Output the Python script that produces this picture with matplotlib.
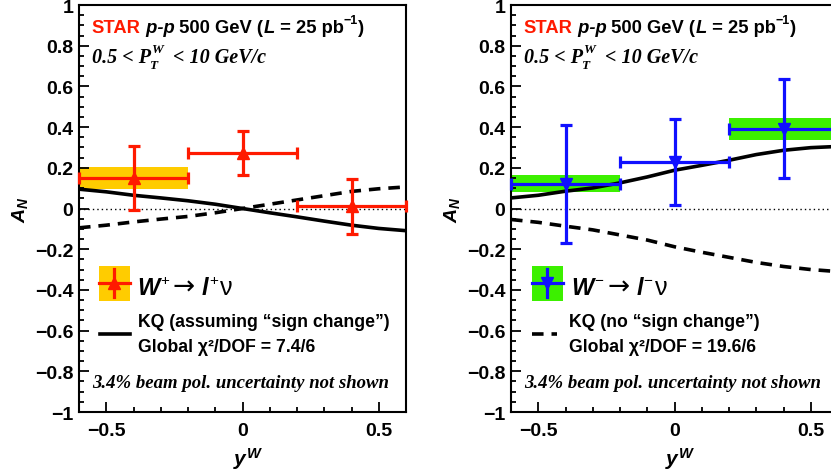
import matplotlib
matplotlib.use('Agg')
import matplotlib.pyplot as plt
from matplotlib.patches import Rectangle
from matplotlib.ticker import MultipleLocator, FuncFormatter

plt.rcParams['font.family'] = ['Liberation Sans', 'DejaVu Sans']
plt.rcParams['mathtext.fontset'] = 'custom'
plt.rcParams['mathtext.rm'] = 'Liberation Sans:bold'
plt.rcParams['mathtext.it'] = 'Liberation Sans:italic:bold'
plt.rcParams['mathtext.bf'] = 'Liberation Sans:bold'

# ---------------- data ----------------
yw_bins = [-0.4, 0.0, 0.4]
yw_halfwidth = [0.2, 0.2, 0.2]

wplus_an = [0.150, 0.273, 0.010]
wplus_stat = [0.155, 0.110, 0.133]
wplus_sys = [0.053, 0.0, 0.0]

wminus_an = [0.122, 0.229, 0.392]
wminus_stat = [0.290, 0.212, 0.244]
wminus_sys = [0.043, 0.0, 0.053]

curve_yw = [-0.6, -0.5, -0.4, -0.3, -0.2, -0.1, 0.0, 0.1, 0.2, 0.3, 0.4, 0.5, 0.6]
kq_sign_wplus = [0.095, 0.082, 0.065, 0.052, 0.038, 0.021, 0.0, -0.021, -0.041, -0.062, -0.082, -0.098, -0.109]
kq_nosign_wplus = [-0.095, -0.082, -0.066, -0.052, -0.039, -0.021, 0.0, 0.021, 0.042, 0.063, 0.084, 0.097, 0.106]
kq_sign_wminus = [0.052, 0.065, 0.085, 0.101, 0.126, 0.155, 0.188, 0.212, 0.237, 0.265, 0.286, 0.299, 0.305]
kq_nosign_wminus = [-0.054, -0.068, -0.087, -0.105, -0.130, -0.155, -0.188, -0.215, -0.240, -0.265, -0.285, -0.300, -0.310]

x_ticks = [-0.5, 0.0, 0.5]
y_ticks = [-1.0, -0.8, -0.6, -0.4, -0.2, 0.0, 0.2, 0.4, 0.6, 0.8, 1.0]

RED = '#ff1a00'
YELLOW = '#ffcc00'
BLUE = '#1010ff'
GREEN = '#3cf000'

W, H = 831, 477
fig = plt.figure(figsize=(W / 100, H / 100), dpi=100)
fig.patch.set_facecolor('white')

ax_l = fig.add_axes([79 / W, (H - 413) / H, 327 / W, 407 / H])
ax_r = fig.add_axes([511 / W, (H - 413) / H, 327 / W, 407 / H])

serif_bi = dict(family='Liberation Serif', style='italic', weight='bold')
sans_b = dict(family='Liberation Sans', weight='bold')
sans_bi = dict(family='Liberation Sans', weight='bold', style='italic')


def fmt(v, pos):
    s = '%g' % v
    return s.replace('-', '\u2212')


def ann(ax, s, xy, xycoords, dxy=(0, 0), **kw):
    return ax.annotate(s, xy=xy, xycoords=xycoords, xytext=dxy,
                       textcoords='offset points', ha='left', va='baseline', **kw)


def after(ax, prev, s, y, dxy=(0, 0), **kw):
    return ann(ax, s, (1, y), (prev, 'axes fraction'), dxy, **kw)


HS = 13.2   # header size


def style_axes(ax):
    ax.set_xlim(-0.6, 0.6)
    ax.set_ylim(-1.0, 1.0)
    ax.xaxis.set_minor_locator(MultipleLocator(0.1))
    ax.yaxis.set_minor_locator(MultipleLocator(0.05))
    ax.set_xticks(x_ticks)
    ax.set_yticks(y_ticks)
    ax.xaxis.set_major_formatter(FuncFormatter(fmt))
    ax.yaxis.set_major_formatter(FuncFormatter(fmt))
    ax.tick_params(which='both', direction='in', top=False, right=False, width=1.3)
    ax.tick_params(which='major', length=7)
    ax.tick_params(which='minor', length=3.5)
    ax.tick_params(axis='y', which='major', pad=4)
    ax.tick_params(axis='x', which='major', pad=7)
    for lab in ax.get_xticklabels() + ax.get_yticklabels():
        lab.set_fontweight('bold')
        lab.set_fontsize(14)
        lab.set_family('Liberation Sans')
    for sp in ax.spines.values():
        sp.set_linewidth(1.5)
    ax.axhline(0, color='black', lw=1.0, ls=(0, (1, 2.2)), zorder=1.5)
    ax.text(-0.180, 0.499, r'$\mathit{A}_{N}$', transform=ax.transAxes, rotation=90,
            ha='center', va='center', fontsize=14)
    ax.text(0.517, -0.130, r'$\mathit{y}^{W}$', transform=ax.transAxes,
            ha='center', va='baseline', fontsize=15)
    # header
    t = ann(ax, 'STAR', (0.039, 0.933), 'axes fraction', color=RED, fontsize=HS, **sans_b)
    t = after(ax, t, ' p-p', 0.933, fontsize=HS, **sans_bi)
    t = after(ax, t, ' 500 GeV (', 0.933, fontsize=HS, **sans_b)
    t = after(ax, t, 'L', 0.933, fontsize=HS, **sans_bi)
    t = after(ax, t, ' = 25 pb', 0.933, fontsize=HS, **sans_b)
    t = after(ax, t, '\u22121', 0.933, (0, 6.5), fontsize=9, **sans_b)
    t = after(ax, t, ')', 0.933, fontsize=HS, **sans_b)
    # pT range
    t = ann(ax, '0.5 < P', (0.039, 0.861), 'axes fraction', fontsize=14.5, **serif_bi)
    tw = after(ax, t, 'W', 0.861, (0.5, 7.0), fontsize=9.5, **serif_bi)
    after(ax, t, 'T', 0.861, (-1.0, -4.5), fontsize=9.5, **serif_bi)
    after(ax, tw, '< 10 GeV/c', 0.861, (7.0, 0), fontsize=14.5, **serif_bi)
    ann(ax, '3.4% beam pol. uncertainty not shown', (0.039, 0.0607), 'axes fraction',
        fontsize=13.5, **serif_bi)


def reaction(ax, x, y, charge):
    t = ann(ax, 'W', (x, y), 'axes fraction', fontsize=17, **sans_bi)
    t = after(ax, t, charge, y, (0.5, 7.5), fontsize=11, family='Liberation Sans')
    t = after(ax, t, '\u2192', y, (3.0, 0), fontsize=19, family=['DejaVu Sans'])
    t = after(ax, t, 'l', y, (5.0, 0), fontsize=17, **sans_bi)
    t = after(ax, t, charge, y, (0.5, 7.5), fontsize=11, family='Liberation Sans')
    after(ax, t, '\u03bd', y, (1.5, 0), fontsize=18, family='Liberation Sans')


for ax in (ax_l, ax_r):
    style_axes(ax)

# ---------------- left: W+ ----------------
for xb, hw, yv, sv in zip(yw_bins, yw_halfwidth, wplus_an, wplus_sys):
    if sv > 0:
        ax_l.add_patch(Rectangle((xb - hw, yv - sv), 2 * hw, 2 * sv, facecolor=YELLOW,
                                 edgecolor='none', zorder=1))
ax_l.plot(curve_yw, kq_sign_wplus, color='black', lw=2.6, zorder=2)
ax_l.plot(curve_yw, kq_nosign_wplus, color='black', lw=2.6, ls=(0, (3.2, 2.2)), zorder=2)
ax_l.errorbar(yw_bins, wplus_an, xerr=yw_halfwidth, yerr=wplus_stat, fmt='^', color=RED,
              ms=9, elinewidth=2.3, capsize=4.5, capthick=2.3, zorder=3, clip_on=False)

# legend left
ax_l.add_patch(Rectangle((0.061, 0.273), 0.095, 0.086, transform=ax_l.transAxes,
                         facecolor=YELLOW, edgecolor='none', zorder=3))
ax_l.plot([0.061, 0.156], [0.316, 0.316], transform=ax_l.transAxes, color=RED, lw=2.3, zorder=4)
ax_l.plot([0.1085, 0.1085], [0.283, 0.351], transform=ax_l.transAxes, color=RED, lw=2.3, zorder=4)
ax_l.plot([0.1085], [0.316], transform=ax_l.transAxes, marker='^', color=RED, ms=9, zorder=5)
reaction(ax_l, 0.177, 0.290, '+')
ax_l.plot([0.064, 0.156], [0.192, 0.192], transform=ax_l.transAxes, color='black', lw=2.6)
ax_l.text(0.180, 0.212, 'KQ (assuming \u201csign change\u201d)', transform=ax_l.transAxes,
          fontsize=12.7, ha='left', va='baseline', **sans_b)
ax_l.text(0.180, 0.151, 'Global \u03c7\u00b2/DOF = 7.4/6', transform=ax_l.transAxes,
          fontsize=12.7, ha='left', va='baseline', **sans_b)

# ---------------- right: W- ----------------
for xb, hw, yv, sv in zip(yw_bins, yw_halfwidth, wminus_an, wminus_sys):
    if sv > 0:
        ax_r.add_patch(Rectangle((xb - hw, yv - sv), 2 * hw, 2 * sv, facecolor=GREEN,
                                 edgecolor='none', zorder=1))
ax_r.plot(curve_yw, kq_sign_wminus, color='black', lw=2.6, zorder=2)
ax_r.plot(curve_yw, kq_nosign_wminus, color='black', lw=2.6, ls=(0, (3.2, 2.2)), zorder=2)
ax_r.errorbar(yw_bins, wminus_an, xerr=yw_halfwidth, yerr=wminus_stat, fmt='v', color=BLUE,
              ms=9, elinewidth=2.3, capsize=4.5, capthick=2.3, zorder=3, clip_on=False)

# legend right
ax_r.add_patch(Rectangle((0.063, 0.273), 0.095, 0.086, transform=ax_r.transAxes,
                         facecolor=GREEN, edgecolor='none', zorder=3))
ax_r.plot([0.063, 0.158], [0.316, 0.316], transform=ax_r.transAxes, color=BLUE, lw=2.3, zorder=4)
ax_r.plot([0.1105, 0.1105], [0.283, 0.351], transform=ax_r.transAxes, color=BLUE, lw=2.3, zorder=4)
ax_r.plot([0.1105], [0.316], transform=ax_r.transAxes, marker='v', color=BLUE, ms=9, zorder=5)
reaction(ax_r, 0.184, 0.290, '\u2212')
ax_r.plot([0.063, 0.140], [0.192, 0.192], transform=ax_r.transAxes, color='black', lw=2.6,
          ls=(0, (3.2, 2.2)))
ax_r.text(0.177, 0.212, 'KQ (no \u201csign change\u201d)', transform=ax_r.transAxes,
          fontsize=12.7, ha='left', va='baseline', **sans_b)
ax_r.text(0.177, 0.151, 'Global \u03c7\u00b2/DOF = 19.6/6', transform=ax_r.transAxes,
          fontsize=12.7, ha='left', va='baseline', **sans_b)

fig.savefig('out.png', dpi=100, facecolor='white')
